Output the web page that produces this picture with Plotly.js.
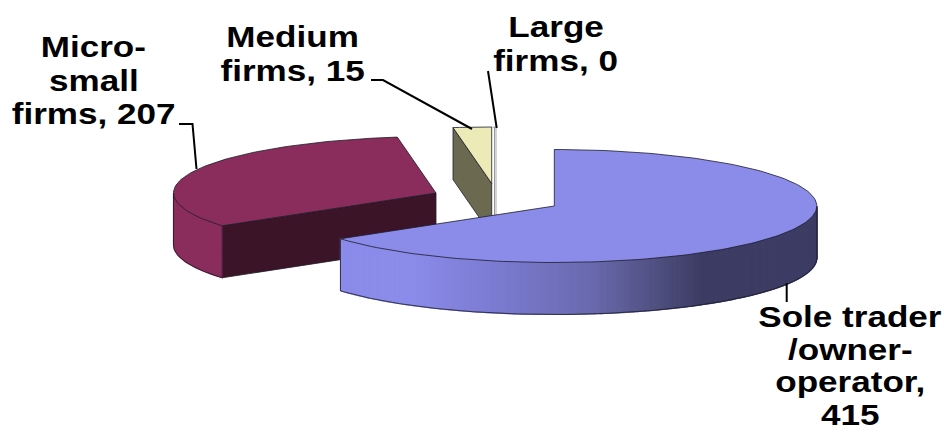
<!DOCTYPE html>
<html>
<head>
<meta charset="utf-8">
<script src="https://cdn.plot.ly/plotly-3.0.1.min.js"></script>
<style>
html,body{margin:0;padding:0;background:#fff}
#chart{width:944px;height:432px}
</style>
</head>
<body>
<div id="chart"></div>
<script>
// Firm counts by size class
const categories = ['Sole trader /owner-operator', 'Micro-small firms', 'Medium firms', 'Large firms'];
const values = [415, 207, 15, 0];

// Label text, one entry per printed line
const labelLines = [
  ['Sole trader', '/owner-', 'operator,', '415'],
  ['Micro-', 'small', 'firms, 207'],
  ['Medium', 'firms, 15'],
  ['Large', 'firms, 0']
];

// Pie geometry in plot units (the axes map 1:1 onto the 944x432 page)
const RX = 262.5, RY = 56.5, DEPTH = 52;
const centers = [[554.3, 206], [436, 193], [491.7, 183.5], [495.5, 183.5]];
const labelPlace = [[850, 317, 32.6], [93.5, 47, 33.5], [292.5, 37, 33.5], [555.5, 27, 33.5]];
const leaders = [
  [[786.7, 786.7], [283, 302]],
  [[179, 192.5, 196.5], [124, 124, 169]],
  [[371, 383, 472], [80, 80, 129]],
  [[488, 496.7], [71, 128]]
];

const topColors = ['#8b8bea', '#8b2d5c', '#ecebb7', '#ffffff'];
const wallColors = ['#8b8bea', '#8b2d5c', '#ecebb7', '#ffffff'];
const innerColors = ['#3f3f6e', '#3c1427', '#6b6a50', '#c8c8c8'];
const EDGE = '#1c1c2a';

// Shading of the outer wall: stops of [x, red, green, blue]
const wallShade = [[340, 139, 139, 234], [410, 139, 139, 234], [500, 122, 122, 208],
                   [590, 106, 106, 174], [660, 78, 78, 126], [700, 60, 60, 100], [830, 60, 60, 100]];

const traces = [];

function shadeAt(x) {
  for (let i = 1; i < wallShade.length; i++) {
    if (x <= wallShade[i][0]) {
      const a = wallShade[i - 1], b = wallShade[i];
      const t = (x - a[0]) / (b[0] - a[0]);
      return 'rgb(' + [1, 2, 3].map(k => Math.round(a[k] + (b[k] - a[k]) * t)).join(',') + ')';
    }
  }
  return 'rgb(60,60,100)';
}

function rim(c, deg) {
  const r = deg * Math.PI / 180;
  return [c[0] + RX * Math.sin(r), c[1] - RY * Math.cos(r)];
}

function arc(c, from, to, step) {
  const pts = [];
  const n = Math.max(2, Math.ceil(Math.abs(to - from) / (step || 1.5)));
  for (let i = 0; i <= n; i++) pts.push(rim(c, from + (to - from) * i / n));
  return pts;
}

function poly(pts, fill, lineColor, lineWidth) {
  traces.push({
    type: 'scatter', mode: 'lines', hoverinfo: 'skip', showlegend: false,
    x: pts.map(p => p[0]), y: pts.map(p => p[1]),
    fill: 'toself', fillcolor: fill,
    line: { color: lineColor || fill, width: lineWidth === undefined ? 1.2 : lineWidth }
  });
}

function stroke(xs, ys, color, width) {
  traces.push({
    type: 'scatter', mode: 'lines', hoverinfo: 'skip', showlegend: false,
    x: xs, y: ys, line: { color: color, width: width }
  });
}

const down = (p) => [p[0], p[1] + DEPTH];
const total = values.reduce((a, b) => a + b, 0);
const starts = [];
let running = 0;
values.forEach(v => { starts.push(running); running += v / total * 360; });
const spans = values.map((v, i) => [starts[i], starts[i] + v / total * 360]);

// Draws one wedge: cut face, outer wall, then the top face
function wedge(i) {
  const c = centers[i], from = spans[i][0], to = spans[i][1];
  const topArc = arc(c, from, to);
  const apex = c;

  if (values[i] === 0) {
    // An empty class collapses to a thin upright sliver
    const p = rim(c, from);
    stroke([p[0], p[0]], [p[1], c[1] + DEPTH], '#d4d4d4', 3);
    stroke([p[0] - 1, p[0] - 1], [p[1], c[1] + DEPTH], '#8a8a8a', 0.8);
    stroke([p[0] - 3, p[0] + 1], [p[1], p[1]], '#9a9a9a', 0.8);
    return;
  }

  // Cut faces turned towards the viewer
  if (i === 1 || i === 2) {
    const a = rim(c, from);
    poly([apex, a, down(a), down(apex), apex], innerColors[i], EDGE, 0.8);
  }

  // Outer wall on the near half of the rim
  const wallFrom = Math.max(from, 90), wallTo = Math.min(to, 270);
  if (wallTo > wallFrom) {
    const band = arc(c, wallFrom, wallTo, i === 0 ? 0.4 : 1.5);
    if (i === 0) {
      for (let k = 0; k < band.length - 1; k++) {
        const p = band[k], q = band[k + 1];
        poly([p, q, down(q), down(p), p], shadeAt((p[0] + q[0]) / 2));
      }
    } else {
      poly(band.concat(band.slice().reverse().map(down)).concat([band[0]]), wallColors[i]);
    }
    const under = band.map(down);
    stroke(under.map(p => p[0]), under.map(p => p[1]), EDGE, 0.8);
    const ends = [band[0], band[band.length - 1]];
    ends.forEach(p => stroke([p[0], p[0]], [p[1], p[1] + DEPTH], EDGE, 0.8));
  }

  // Top face
  const ring = [apex].concat(topArc).concat([apex]);
  poly(ring, topColors[i], EDGE, 0.8);
}

// Far slices first so the nearer ones overlap them
[3, 2, 1, 0].forEach(wedge);

leaders.forEach(l => stroke(l[0], l[1], '#000000', 2));

// Labels are placed line by line
const annotations = [];
labelLines.forEach((lines, i) => {
  const p = labelPlace[i];
  lines.forEach((t, j) => annotations.push({
    text: t, x: p[0], y: p[1] + j * p[2], xref: 'x', yref: 'y',
    showarrow: false, xanchor: 'center', yanchor: 'middle',
    font: { family: '"Liberation Sans", Arial, sans-serif', size: 29, color: '#000000' }
  }));
});

const layout = {
  width: 944, height: 432,
  margin: { l: 0, r: 0, t: 0, b: 0 },
  paper_bgcolor: '#ffffff', plot_bgcolor: '#ffffff',
  showlegend: false,
  xaxis: { range: [0, 944], visible: false, fixedrange: true },
  yaxis: { range: [432, 0], visible: false, fixedrange: true },
  annotations: annotations
};

Plotly.newPlot('chart', traces, layout, { displayModeBar: false, staticPlot: true }).then(() => {
  // Heavy, slightly extended lettering
  document.querySelectorAll('.annotation-text').forEach(t => {
    t.style.fontWeight = '700';
    t.style.transformBox = 'fill-box';
    t.style.transformOrigin = 'center';
    t.style.transform = 'scaleX(1.21)';
  });
});
</script>
</body>
</html>
